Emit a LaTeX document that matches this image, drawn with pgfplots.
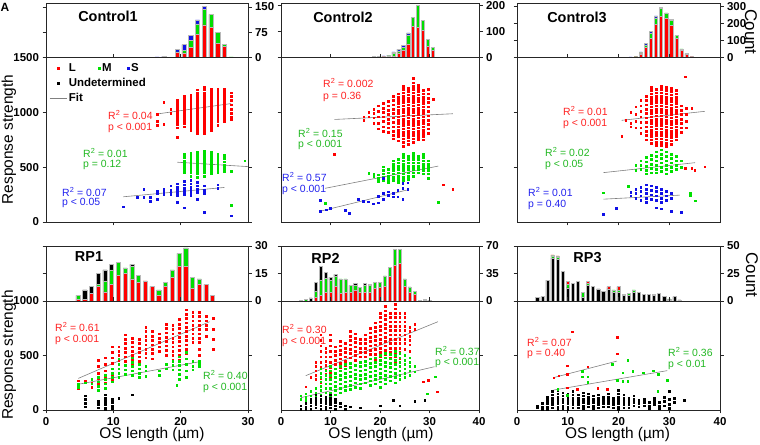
\documentclass[border=0pt]{standalone}
\usepackage{fontspec}
\setmainfont{Liberation Sans}
\usepackage{pgfplots}
\usepackage{pgfplotstable}
\pgfplotsset{compat=1.18}

\definecolor{cR}{HTML}{FF0000}
\definecolor{cG}{HTML}{00E000}
\definecolor{cB}{HTML}{1010E6}
\definecolor{tR}{HTML}{FF2222}
\definecolor{tG}{HTML}{22B822}
\definecolor{tB}{HTML}{2222EE}
\definecolor{barG}{HTML}{00DD00}

\pgfplotsset{
  base/.style={scale only axis, tick align=outside, major tick length=3.5bp,
    axis line style={black!85, line width=0.8bp},
    every tick/.style={black!85, line width=0.8bp},
    tick label style={font=\fontsize{11.5}{13}\selectfont\bfseries},
    /pgf/number format/assume math mode=true,
    /pgf/number format/1000 sep={}},
  hist/.style={base, ybar stacked, bar width=0.62, ymin=0, xtick=\empty,
    ytick pos=both, yticklabel pos=right, height=54.5bp},
  scat/.style={base, ymin=0, xtick pos=both, ytick pos=both},
  pts/.style={only marks, mark=square*, mark size=0.85bp},
  fit/.style={gray, line width=0.6bp},
  hb/.style={draw=gray!55, line width=0.5bp},
}

% histogram tables: x, L (red), M (green), S (blue) / undetermined (black)
\pgfplotstableread{
x r g b
16.5 0 0 2
17.5 0 0 4
18.5 0 0 1
19.5 15 2 8
20.5 14 7 17
21.5 31 19 15
22.5 68 32 12
23.5 97 47 7
24.5 89 39 0
25.5 43 31 0
26.5 33 7 0
27.5 0 2 0
}\histA
\pgfplotstableread{
x r g b
16.7 0 1 0
17.7 1 0 0
18.7 1 2 0
19.7 1 2 1
20.7 2 3 1
21.7 3 3 3
22.7 5 10 7
23.7 18 8 5
24.7 28 10 8
25.7 53 35 7
26.7 120 36 0
27.7 118 83 0
28.7 105 38 0
29.7 43 26 0
30.7 27 13 0
}\histB
\pgfplotstableread{
x r g b
22.4 2 0 1
23.4 3 1 1
24.4 22 5 6
25.4 60 15 10
26.4 112 33 10
27.4 194 40 12
28.4 243 45 10
29.4 229 34 0
30.4 188 30 6
31.4 112 17 0
32.4 41 10 0
33.4 20 4 0
34.4 4 1 0
35.4 1 1 0
}\histC
\pgfplotstableread{
x r g k
4.75 1 2 0
5.75 1 0 5
6.75 4 0 4
7.75 8 1 6
8.75 5 6 6
9.75 9 8 3
10.75 14 7 0
11.75 15 3 0
12.75 12 7 1
13.75 10 4 0
14.75 11 0 0
15.75 8 0 0
16.75 3 3 0
17.75 8 2 0
18.75 13 4 0
19.75 19 7 0
20.75 19 10 0
21.75 7 6 0
22.75 9 3 0
23.75 9 0 0
24.75 3 0 0
}\histD
\pgfplotstableread{
x r g k
4 0 0 1
5 0 2 0
6 0 0 4
7 5 8 11
8 7 20 17
9 11 18 7
10 11 16 3
11 19 12 3
12 10 18 0
13 11 17 0
14 11 9 0
15 14 6 2
16 11 6 0
17 11 9 2
18 11 9 1
19 16 8 0
20 17 7 0
21 19 13 0
22 31 12 0
23 45 21 0
24 48 18 0
25 19 9 0
26 11 7 0
27 8 4 0
28 0 0 1
29 0 1 1
30 0 0 1
}\histE
\pgfplotstableread{
x k g r
4 3 0 0
5 4 0 0
6 19 0 0
7 39 2 1
8 38 2 1
9 27 0 0
10 12 3 3
11 16 0 0
12 18 0 0
13 3 5 0
14 14 2 2
15 13 0 0
16 11 0 0
17 9 0 0
18 11 0 2
19 8 2 0
20 8 2 3
21 5 1 0
22 5 2 0
23 8 2 0
24 8 0 0
25 6 0 0
26 6 0 0
27 5 1 0
28 7 0 0
29 4 0 0
30 1 1 0
31 4 0 0
32 1 0 0
}\histF

\begin{document}
\begin{tikzpicture}[x=1bp,y=1bp]
\path[use as bounding box] (0,0) rectangle (760,445);

% ---------------- Control1 ----------------
\begin{axis}[hist, at={(46bp,387.5bp)}, anchor=south west, width=202bp,
  xmin=0, xmax=30, ymax=162, ytick={0,75,150}]
\addplot[fill=cR, hb] table[x=x,y=r]{\histA};
\addplot[fill=barG, hb] table[x=x,y=g]{\histA};
\addplot[fill=cB, hb] table[x=x,y=b]{\histA};
\end{axis}
\begin{axis}[scat, at={(46bp,223bp)}, anchor=south west, width=202bp, height=164.5bp,
  xmin=0, xmax=30, ymax=1500, xtick={10,20}, xticklabels={}, ytick={0,500,1000,1500},
  legend style={at={(0.01,0.985)}, anchor=north west, draw=none, fill=none,
    font=\fontsize{11.5}{12}\selectfont\bfseries, inner sep=1bp, row sep=1.5bp,
    /tikz/every even column/.append style={column sep=6bp}},
  legend columns=3, legend cell align=left]
\addlegendimage{pts, cR}\addlegendentry{L}
\addlegendimage{pts, cG}\addlegendentry{M}
\addlegendimage{pts, cB}\addlegendentry{S}
\addlegendimage{pts, black}\addlegendentry{\rlap{Undetermined}}
\addlegendimage{empty legend}\addlegendentry{}
\addlegendimage{empty legend}\addlegendentry{}
\addlegendimage{fit}\addlegendentry{Fit}
\addplot[pts, cR, forget plot] coordinates {
(16.5,985)(16.5,920)(16.5,880)(17.5,1095)(17.5,890)(18.5,1030)(18.5,990)
(19.5,1115)(19.5,1090)(19.5,1065)(19.5,1040)(19.5,1015)(19.5,990)(19.5,965)(19.5,940)(19.5,915)(19.5,890)(19.5,860)(19.5,775)
(20.5,1145)(20.5,1120)(20.5,1095)(20.5,1070)(20.5,1045)(20.5,1020)(20.5,995)(20.5,970)(20.5,945)(20.5,920)(20.5,895)(20.5,870)
(21.5,1160)(21.5,1135)(21.5,1110)(21.5,1085)(21.5,1060)(21.5,1035)(21.5,1010)(21.5,985)(21.5,960)(21.5,935)(21.5,910)(21.5,885)(21.5,860)(21.5,840)
(22.5,1205)(22.5,1180)(22.5,1155)(22.5,1130)(22.5,1105)(22.5,1080)(22.5,1055)(22.5,1030)(22.5,1005)(22.5,980)(22.5,955)(22.5,930)(22.5,905)(22.5,880)(22.5,855)(22.5,830)(22.5,810)
(23.5,1230)(23.5,1205)(23.5,1180)(23.5,1155)(23.5,1130)(23.5,1105)(23.5,1080)(23.5,1055)(23.5,1030)(23.5,1005)(23.5,980)(23.5,955)(23.5,930)(23.5,905)(23.5,880)(23.5,855)(23.5,830)(23.5,810)
(24.5,1215)(24.5,1190)(24.5,1165)(24.5,1140)(24.5,1115)(24.5,1090)(24.5,1065)(24.5,1040)(24.5,1015)(24.5,990)(24.5,965)(24.5,940)(24.5,915)(24.5,890)(24.5,865)(24.5,835)
(25.5,1215)(25.5,1190)(25.5,1165)(25.5,1140)(25.5,1115)(25.5,1090)(25.5,1065)(25.5,1040)(25.5,1015)(25.5,990)(25.5,965)(25.5,940)(25.5,915)(25.5,880)
(26.5,1210)(26.5,1185)(26.5,1160)(26.5,1135)(26.5,1110)(26.5,1085)(26.5,1060)(26.5,1035)(26.5,1010)(26.5,985)(26.5,960)(26.5,935)(26.5,915)
(27.5,1180)(27.5,1150)(27.5,1110)(27.5,1070)(27.5,1030)(27.5,990)(27.5,960)(27.5,940)
};
\addplot[pts, cG, forget plot] coordinates {
(20.5,620)(20.5,590)(20.5,560)(20.5,540)(20.5,520)(20.5,500)(20.5,470)(20.5,450)
(21.5,630)(21.5,600)(21.5,575)(21.5,550)(21.5,525)(21.5,500)(21.5,475)(21.5,450)(21.5,420)
(22.5,640)(22.5,615)(22.5,590)(22.5,565)(22.5,540)(22.5,515)(22.5,490)(22.5,465)(22.5,440)(22.5,410)
(23.5,650)(23.5,625)(23.5,600)(23.5,575)(23.5,550)(23.5,525)(23.5,500)(23.5,475)(23.5,450)(23.5,420)
(24.5,640)(24.5,615)(24.5,590)(24.5,565)(24.5,540)(24.5,515)(24.5,490)(24.5,465)(24.5,440)
(25.5,620)(25.5,595)(25.5,570)(25.5,545)(25.5,520)(25.5,495)(25.5,470)(25.5,450)
(26.5,610)(26.5,580)(26.5,550)(26.5,520)(26.5,490)(26.5,460)
(27.5,465)(27.5,152)(29.5,560)
};
\addplot[pts, cB, forget plot] coordinates {
(11.5,140)(13.5,225)(14.5,300)(14.5,225)(15.5,225)(15.5,190)
(16.5,280)(16.5,260)(16.5,210)(17.5,300)(17.5,270)(17.5,250)
(18.5,330)(18.5,290)(18.5,270)(18.5,250)
(19.5,350)(19.5,320)(19.5,300)(19.5,280)(19.5,260)(19.5,240)(19.5,180)
(20.5,370)(20.5,340)(20.5,310)(20.5,290)(20.5,270)(20.5,250)(20.5,130)
(21.5,380)(21.5,350)(21.5,320)(21.5,300)(21.5,280)(21.5,260)(21.5,240)
(22.5,360)(22.5,330)(22.5,300)(22.5,270)(22.5,210)
(23.5,330)(23.5,290)(23.5,260)(23.5,90)(25.5,340)(25.5,310)(27.5,58)
};
\addplot[fit, forget plot] coordinates {(16.5,985)(27.5,1080)};
\addplot[fit, forget plot] coordinates {(19.5,545)(30,505)};
\addplot[fit, forget plot] coordinates {(11.5,230)(26.5,315)};
\end{axis}

% ---------------- Control2 ----------------
\begin{axis}[hist, at={(281bp,387.5bp)}, anchor=south west, width=198bp,
  xmin=0, xmax=40, ymax=211, ytick={0,100,200}]
\addplot[fill=cR, hb] table[x=x,y=r]{\histB};
\addplot[fill=barG, hb] table[x=x,y=g]{\histB};
\addplot[fill=cB, hb] table[x=x,y=b]{\histB};
\end{axis}
\begin{axis}[scat, at={(281bp,223bp)}, anchor=south west, width=198bp, height=164.5bp,
  xmin=0, xmax=40, ymax=1500, xtick={10,20,30}, xticklabels={}, ytick={500,1000}, yticklabels={}]
\addplot[pts, cR] coordinates {
(16.7,925)(16.7,960)(17.7,960)(17.7,1000)
(18.7,1030)(18.7,990)(18.7,950)(18.7,900)
(19.7,1060)(19.7,1010)(19.7,960)(19.7,900)(19.7,850)
(20.7,1080)(20.7,1040)(20.7,1000)(20.7,960)(20.7,920)(20.7,870)(20.7,830)
(21.7,1100)(21.7,1060)(21.7,1020)(21.7,980)(21.7,940)(21.7,900)(21.7,860)(21.7,820)
(22.7,1150)(22.7,1110)(22.7,1070)(22.7,1030)(22.7,990)(22.7,950)(22.7,910)(22.7,870)(22.7,830)(22.7,790)(22.7,760)
(23.7,1170)(23.7,1140)(23.7,1110)(23.7,1080)(23.7,1050)(23.7,1020)(23.7,990)(23.7,960)(23.7,930)(23.7,900)(23.7,870)(23.7,840)(23.7,810)(23.7,780)(23.7,740)
(24.7,1240)(24.7,1210)(24.7,1180)(24.7,1150)(24.7,1120)(24.7,1090)(24.7,1060)(24.7,1030)(24.7,1000)(24.7,970)(24.7,940)(24.7,910)(24.7,880)(24.7,850)(24.7,820)(24.7,790)(24.7,760)(24.7,730)(24.7,690)
(25.7,1220)(25.7,1190)(25.7,1160)(25.7,1130)(25.7,1100)(25.7,1070)(25.7,1040)(25.7,1010)(25.7,980)(25.7,950)(25.7,920)(25.7,890)(25.7,860)(25.7,830)(25.7,800)(25.7,770)(25.7,740)(25.7,710)
(26.7,1310)(26.7,1270)(26.7,1240)(26.7,1210)(26.7,1180)(26.7,1150)(26.7,1120)(26.7,1090)(26.7,1060)(26.7,1030)(26.7,1000)(26.7,970)(26.7,940)(26.7,910)(26.7,880)(26.7,850)(26.7,820)(26.7,790)(26.7,760)(26.7,730)
(27.7,1250)(27.7,1220)(27.7,1190)(27.7,1160)(27.7,1130)(27.7,1100)(27.7,1070)(27.7,1040)(27.7,1010)(27.7,980)(27.7,950)(27.7,920)(27.7,890)(27.7,860)(27.7,830)(27.7,800)(27.7,770)(27.7,750)
(28.7,1200)(28.7,1170)(28.7,1140)(28.7,1110)(28.7,1080)(28.7,1050)(28.7,1020)(28.7,990)(28.7,960)(28.7,930)(28.7,900)(28.7,870)(28.7,840)(28.7,810)(28.7,780)(28.7,750)
(29.7,1210)(29.7,1170)(29.7,1130)(29.7,1090)(29.7,1050)(29.7,1010)(29.7,970)(29.7,930)(29.7,890)(29.7,850)(29.7,810)
(30.7,1120)(10.8,615)(32.7,340)(34.7,300)
};
\addplot[pts, cG] coordinates {
(17.7,445)(18.7,440)(18.7,420)(19.7,430)(19.7,400)(19.7,370)
(20.7,505)(20.7,470)(20.7,440)(20.7,410)(20.7,380)
(21.7,480)(21.7,450)(21.7,420)(21.7,390)(21.7,365)
(22.7,560)(22.7,530)(22.7,500)(22.7,470)(22.7,440)(22.7,410)(22.7,380)
(23.7,570)(23.7,540)(23.7,510)(23.7,480)(23.7,450)(23.7,420)(23.7,390)(23.7,365)
(24.7,620)(24.7,590)(24.7,560)(24.7,530)(24.7,500)(24.7,470)(24.7,440)(24.7,410)(24.7,380)
(25.7,600)(25.7,570)(25.7,540)(25.7,510)(25.7,480)(25.7,450)(25.7,420)(25.7,390)
(26.7,630)(26.7,600)(26.7,570)(26.7,540)(26.7,510)(26.7,480)(26.7,450)(26.7,420)
(27.7,600)(27.7,570)(27.7,540)(27.7,510)(27.7,480)(27.7,450)
(28.7,620)(28.7,590)(28.7,560)(28.7,530)(28.7,500)(28.7,470)(28.7,440)
(29.7,560)(29.7,530)(29.7,500)(29.7,470)(29.7,440)(29.7,400)
(8.9,170)(31.8,180)
};
\addplot[pts, cB] coordinates {
(7.9,199)(7.9,98)(9.1,113)(9.9,123)(12.9,107)(13.8,83)(15.6,205)(16.6,190)(17.6,184)(18.6,168)
(19.6,236)(19.6,175)(20.6,260)(20.6,205)(20.6,400)(21.6,245)(21.6,275)(22.6,260)(22.6,230)
(23.6,290)(23.6,230)(24.6,352)(24.6,306)(24.6,205)(25.6,358)(25.6,297)
};
\addplot[fit] coordinates {(10.8,935)(34.7,987)};
\addplot[fit] coordinates {(8.9,307)(31.8,510)};
\addplot[fit] coordinates {(7.9,98)(25.4,291)};
\end{axis}

% ---------------- Control3 ----------------
\begin{axis}[hist, at={(517bp,387.5bp)}, anchor=south west, width=203bp,
  xmin=0, xmax=40, ymax=322, ytick={0,100,200,300}]
\addplot[fill=cR, hb] table[x=x,y=r]{\histC};
\addplot[fill=barG, hb] table[x=x,y=g]{\histC};
\addplot[fill=cB, hb] table[x=x,y=b]{\histC};
\end{axis}
\begin{axis}[scat, at={(517bp,223bp)}, anchor=south west, width=203bp, height=164.5bp,
  xmin=0, xmax=40, ymax=1500, xtick={10,20,30}, xticklabels={}, ytick={500,1000}, yticklabels={}]
\addplot[pts, cR] coordinates {
(20.6,780)(21.4,930)(22.4,1000)(22.4,900)(22.4,870)(23.4,1050)(23.4,980)(23.4,920)(23.4,860)
(24.4,1110)(24.4,1060)(24.4,1010)(24.4,960)(24.4,910)(24.4,860)(24.4,810)
(25.4,1150)(25.4,1110)(25.4,1070)(25.4,1030)(25.4,990)(25.4,950)(25.4,910)(25.4,870)(25.4,830)(25.4,790)(25.4,750)
(26.4,1230)(26.4,1200)(26.4,1170)(26.4,1140)(26.4,1110)(26.4,1080)(26.4,1050)(26.4,1020)(26.4,990)(26.4,960)(26.4,930)(26.4,900)(26.4,870)(26.4,840)(26.4,810)(26.4,780)(26.4,750)(26.4,720)
(27.4,1210)(27.4,1180)(27.4,1150)(27.4,1120)(27.4,1090)(27.4,1060)(27.4,1030)(27.4,1000)(27.4,970)(27.4,940)(27.4,910)(27.4,880)(27.4,850)(27.4,820)(27.4,790)(27.4,760)(27.4,730)(27.4,700)
(28.4,1240)(28.4,1210)(28.4,1180)(28.4,1150)(28.4,1120)(28.4,1090)(28.4,1060)(28.4,1030)(28.4,1000)(28.4,970)(28.4,940)(28.4,910)(28.4,880)(28.4,850)(28.4,820)(28.4,790)(28.4,760)(28.4,730)(28.4,700)
(29.4,1230)(29.4,1200)(29.4,1170)(29.4,1140)(29.4,1110)(29.4,1080)(29.4,1050)(29.4,1020)(29.4,990)(29.4,960)(29.4,930)(29.4,900)(29.4,870)(29.4,840)(29.4,810)(29.4,780)(29.4,750)(29.4,720)(29.4,690)
(30.4,1220)(30.4,1190)(30.4,1160)(30.4,1130)(30.4,1100)(30.4,1070)(30.4,1040)(30.4,1010)(30.4,980)(30.4,950)(30.4,920)(30.4,890)(30.4,860)(30.4,830)(30.4,800)(30.4,770)(30.4,740)(30.4,710)
(31.4,1200)(31.4,1170)(31.4,1140)(31.4,1110)(31.4,1080)(31.4,1050)(31.4,1020)(31.4,990)(31.4,960)(31.4,930)(31.4,900)(31.4,870)(31.4,840)(31.4,810)(31.4,780)(31.4,750)
(32.4,1060)(32.4,1020)(32.4,980)(32.4,940)(32.4,900)(32.4,860)(32.4,820)
(33.4,1040)(33.4,980)(33.4,920)(33.4,860)(33.1,1325)(34.4,1040)
(37.0,505)(33.1,490)(34.4,490)(35.0,475)
};
\addplot[pts, cG] coordinates {
(23.4,520)(23.4,470)(24.4,560)(24.4,520)(24.4,480)
(25.4,590)(25.4,550)(25.4,510)(25.4,470)(25.4,440)
(26.4,610)(26.4,570)(26.4,530)(26.4,490)(26.4,450)
(27.4,640)(27.4,600)(27.4,560)(27.4,520)(27.4,480)(27.4,450)
(28.4,660)(28.4,620)(28.4,580)(28.4,540)(28.4,500)(28.4,460)
(29.4,640)(29.4,600)(29.4,560)(29.4,520)(29.4,480)(29.4,440)
(30.4,620)(30.4,580)(30.4,540)(30.4,500)(30.4,460)
(31.4,600)(31.4,560)(31.4,520)(31.4,480)(32.4,560)(32.4,500)
(17.0,266)(21.9,327)(34.1,260)(34.1,240)(35.1,195)
};
\addplot[pts, cB] coordinates {
(22.4,270)(22.4,240)(23.4,300)(23.4,260)(23.4,220)
(24.4,320)(24.4,280)(24.4,240)(24.4,200)
(25.4,340)(25.4,300)(25.4,260)(25.4,220)(25.4,180)
(26.4,330)(26.4,290)(26.4,250)(26.4,210)
(27.4,320)(27.4,280)(27.4,240)(27.4,200)(27.4,130)
(28.4,300)(28.4,260)(28.4,220)(28.4,180)(28.4,120)
(29.4,280)(29.4,240)(29.4,200)(30.4,260)(30.4,220)(30.4,100)
(32.3,90)(17.0,70)(19.6,128)
};
\addplot[fit] coordinates {(20.6,927)(37.0,1009)};
\addplot[fit] coordinates {(17.0,450)(35.1,541)};
\addplot[fit] coordinates {(17.0,208)(32.1,245)};
\end{axis}

% ---------------- RP1 ----------------
\begin{axis}[hist, at={(46bp,144bp)}, anchor=south west, width=202bp, height=55bp,
  xmin=0, xmax=30, ymax=30, ytick={0,15,30}]
\addplot[fill=cR, hb] table[x=x,y=r]{\histD};
\addplot[fill=barG, hb] table[x=x,y=g]{\histD};
\addplot[fill=black, hb] table[x=x,y=k]{\histD};
\end{axis}
\begin{axis}[scat, at={(46bp,35bp)}, anchor=south west, width=202bp, height=109bp,
  xmin=0, xmax=30, ymax=1000, xtick={0,10,20,30}, ytick={0,500,1000}]
\addplot[pts, cR] coordinates {
(4.8,270)(4.8,200)(5.8,270)(6.8,250)(6.8,210)
(7.8,460)(7.8,400)(7.8,340)(7.8,290)(7.8,240)(7.8,180)
(8.8,480)(8.8,420)(8.8,360)(8.8,300)(8.8,250)(8.8,200)
(9.8,580)(9.8,530)(9.8,480)(9.8,430)(9.8,380)(9.8,330)(9.8,280)
(10.8,580)(10.8,540)(10.8,500)(10.8,460)(10.8,420)(10.8,380)(10.8,340)
(11.8,690)(11.8,650)(11.8,610)(11.8,570)(11.8,530)(11.8,490)(11.8,450)(11.8,410)(11.8,370)(11.8,330)
(12.8,660)(12.8,620)(12.8,580)(12.8,540)(12.8,500)(12.8,460)(12.8,420)
(13.8,650)(13.8,610)(13.8,570)(13.8,530)(13.8,490)(13.8,450)
(14.8,760)(14.8,720)(14.8,680)(14.8,640)(14.8,600)(14.8,560)(14.8,520)(14.8,480)
(15.8,720)(15.8,680)(15.8,640)(15.8,600)(15.8,560)(15.8,520)(15.8,470)
(16.8,700)(16.8,660)(16.8,620)(16.8,580)(16.8,540)
(17.8,790)(17.8,750)(17.8,710)(17.8,670)(17.8,630)(17.8,590)(17.8,550)(17.8,500)
(18.8,780)(18.8,740)(18.8,700)(18.8,660)(18.8,620)(18.8,580)(18.8,540)(18.8,500)(18.8,460)
(19.8,830)(19.8,790)(19.8,750)(19.8,710)(19.8,670)(19.8,630)(19.8,590)(19.8,550)(19.8,500)(19.8,460)
(20.8,920)(20.8,880)(20.8,840)(20.8,800)(20.8,760)(20.8,720)(20.8,680)(20.8,640)(20.8,600)(20.8,560)(20.8,520)(20.8,470)(20.8,420)(20.8,360)
(21.8,900)(21.8,860)(21.8,820)(21.8,780)(21.8,740)(21.8,700)(21.8,660)(21.8,620)
(22.8,900)(22.8,860)(22.8,820)(22.8,780)(22.8,740)(22.8,700)(22.8,660)(22.8,620)(22.8,560)(22.8,500)
(23.8,860)(23.8,820)(23.8,780)(23.8,740)(23.8,680)
(24.8,840)(24.8,740)(24.8,650)(24.8,560)
};
\addplot[pts, cG] coordinates {
(4.8,235)(4.8,210)(5.8,250)(6.8,280)(6.8,240)
(7.8,300)(7.8,260)(7.8,220)(7.8,180)(8.8,320)(8.8,280)(8.8,240)(8.8,200)
(9.8,380)(9.8,340)(9.8,300)(9.8,260)(10.8,470)(10.8,420)(10.8,380)(10.8,340)(10.8,300)
(11.8,410)(11.8,370)(11.8,330)(12.8,480)(12.8,440)(12.8,400)(12.8,360)(12.8,320)
(13.8,420)(13.8,380)(13.8,340)(13.8,300)(14.8,400)(14.8,360)(14.8,310)
(16.8,360)(16.8,320)(17.8,420)(17.8,380)(18.8,450)(18.8,410)(18.8,370)
(19.8,490)(19.8,450)(19.8,410)(19.8,370)(19.8,330)(19.8,280)
(20.8,530)(20.8,470)(20.8,420)(20.8,360)(20.8,300)
(21.8,450)(21.8,400)(21.8,370)(22.8,450)(22.8,420)(22.8,400)(19.4,229)
};
\addplot[pts, black] coordinates {
(5.8,130)(5.8,100)(5.8,60)(5.8,30)(7.8,80)(7.8,50)(7.8,20)
(8.8,140)(8.8,110)(8.8,80)(8.8,50)(8.8,20)(8.8,5)
(9.8,100)(9.8,70)(9.8,40)(9.8,15)(10.8,110)(12.8,140)
};
\addplot[fit] coordinates {(4.8,290)(24.3,810)};
\addplot[fit] coordinates {(4.8,236)(22.8,443)};
\end{axis}

% ---------------- RP2 ----------------
\begin{axis}[hist, at={(281bp,144bp)}, anchor=south west, width=198bp, height=55bp,
  xmin=0, xmax=40, ymax=70, ytick={0,35,70}]
\addplot[fill=cR, hb] table[x=x,y=r]{\histE};
\addplot[fill=barG, hb] table[x=x,y=g]{\histE};
\addplot[fill=black, hb] table[x=x,y=k]{\histE};
\end{axis}
\begin{axis}[scat, at={(281bp,35bp)}, anchor=south west, width=198bp, height=109bp,
  xmin=0, xmax=40, ymax=1000, xtick={0,10,20,30,40}, ytick={500,1000}, yticklabels={}]
\addplot[pts, cR] coordinates {
(5,215)(6,300)(7,440)(7,400)(7,360)(7,320)(7,280)
(8,690)(8,640)(8,590)(8,540)(8,490)(8,440)(8,390)(8,340)(8,290)(8,250)
(9,570)(9,530)(9,490)(9,450)(9,410)(9,370)(9,330)
(10,690)(10,640)(10,590)(10,540)(10,490)(10,440)(10,390)(10,340)(10,290)(10,240)
(11,580)(11,540)(11,500)(11,460)(11,420)(11,380)(11,340)
(12,630)(12,590)(12,550)(12,510)(12,470)(12,430)(12,390)
(13,610)(13,570)(13,530)(13,490)(13,450)(13,410)
(14,720)(14,680)(14,640)(14,600)(14,560)(14,520)(14,480)(14,430)
(15,700)(15,660)(15,620)(15,580)(15,540)(15,500)(15,460)
(16,650)(16,610)(16,570)(16,530)(16,490)(16,440)
(17,690)(17,650)(17,610)(17,570)(17,530)(17,490)(17,450)
(18,750)(18,710)(18,670)(18,630)(18,590)(18,550)(18,510)(18,470)
(19,800)(19,760)(19,720)(19,680)(19,640)(19,600)(19,560)(19,510)(19,460)
(20,890)(20,850)(20,810)(20,770)(20,730)(20,690)(20,650)(20,610)(20,570)(20,530)(20,490)
(21,950)(21,910)(21,870)(21,830)(21,790)(21,750)(21,710)(21,670)(21,630)(21,590)(21,550)(21,510)
(22,890)(22,850)(22,810)(22,770)(22,730)(22,690)(22,650)(22,610)(22,570)(22,530)(22,480)
(23,970)(23,930)(23,890)(23,850)(23,810)(23,770)(23,730)(23,690)(23,650)(23,610)(23,570)(23,530)(23,490)(23,450)(23,380)
(24,890)(24,850)(24,810)(24,770)(24,730)(24,690)(24,650)(24,610)(24,570)(24,530)(24,470)
(25,890)(25,850)(25,810)(25,770)(25,730)(25,690)(25,650)(25,610)(25,560)(25,500)
(26,760)(26,720)(26,680)(26,640)(26,600)(26,540)
(27,790)(27,740)(28.7,260)(29.7,275)(31.6,168)
};
\addplot[pts, cG] coordinates {
(4,130)(4,100)(5,150)(5,120)(5,90)(6,170)(6,130)(6,100)(7,200)(7,160)(7,120)(7,80)
(8,380)(8,340)(8,300)(8,260)(8,220)(8,180)(8,140)(8,100)
(9,360)(9,320)(9,280)(9,240)(9,200)(9,160)(9,120)
(10,400)(10,360)(10,320)(10,280)(10,240)(10,200)(10,160)(10,120)
(11,380)(11,340)(11,300)(11,260)(11,220)(11,180)(11,140)
(12,400)(12,360)(12,320)(12,280)(12,240)(12,200)(12,160)
(13,420)(13,380)(13,340)(13,300)(13,260)(13,220)(13,180)
(14,430)(14,390)(14,350)(14,310)(14,270)(14,230)(14,190)
(15,410)(15,370)(15,330)(15,290)(15,250)(15,210)
(16,440)(16,400)(16,360)(16,320)(16,280)(16,240)(16,200)
(17,450)(17,410)(17,370)(17,330)(17,290)(17,250)
(18,470)(18,430)(18,390)(18,350)(18,310)(18,270)(18,230)
(19,480)(19,440)(19,400)(19,360)(19,320)(19,280)(19,240)
(20,500)(20,460)(20,420)(20,380)(20,340)(20,300)(20,260)(20,210)
(21,520)(21,480)(21,440)(21,400)(21,360)(21,320)(21,280)(21,240)
(22,510)(22,470)(22,430)(22,390)(22,350)(22,310)(22,270)
(23,540)(23,500)(23,460)(23,420)(23,380)(23,340)(23,300)(23,250)
(24,520)(24,480)(24,440)(24,400)(24,360)(24,320)(24,280)
(25,500)(25,460)(25,420)(25,380)(25,340)(25,300)
(26,480)(26,440)(26,400)(26,360)(26,320)(27,400)(27,350)
(31.1,306)(29.5,150)
};
\addplot[pts, black] coordinates {
(4,40)(4,10)(5,60)(5,30)(5,5)(6,100)(6,70)(6,40)(6,10)
(7,140)(7,110)(7,80)(7,50)(7,20)(8,130)(8,100)(8,70)(8,40)(8,10)
(9,120)(9,90)(9,60)(9,30)(9,5)(10,140)(10,110)(10,80)(10,50)(10,20)
(11,100)(11,70)(11,40)(11,10)(12,60)(12,30)(13,40)(13,10)(14,30)(16,20)
(20,40)(22.7,92)(24,40)(27,80)(29,90)
};
\addplot[fit] coordinates {(5.0,315)(31.7,810)};
\addplot[fit] coordinates {(4.0,113)(31.0,397)};
\end{axis}

% ---------------- RP3 ----------------
\begin{axis}[hist, at={(517bp,144bp)}, anchor=south west, width=203bp, height=55bp,
  xmin=0, xmax=40, ymax=50, ytick={0,25,50}]
\addplot[fill=black, hb] table[x=x,y=k]{\histF};
\addplot[fill=barG, hb] table[x=x,y=g]{\histF};
\addplot[fill=cR, hb] table[x=x,y=r]{\histF};
\end{axis}
\begin{axis}[scat, at={(517bp,35bp)}, anchor=south west, width=203bp, height=109bp,
  xmin=0, xmax=40, ymax=1000, xtick={0,10,20,30,40}, ytick={500,1000}, yticklabels={}]
\addplot[pts, black] coordinates {
(4,40)(4,20)(5,60)(5,30)(5,10)(6,120)(6,90)(6,60)(6,30)(6,10)
(7,170)(7,140)(7,110)(7,80)(7,50)(7,20)(8,180)(8,150)(8,120)(8,90)(8,60)(8,30)(8,10)
(9,160)(9,130)(9,100)(9,70)(9,40)(9,15)(10,150)(10,120)(10,90)(10,60)(10,30)(10,10)
(11,170)(11,140)(11,110)(11,80)(11,50)(11,20)(12,140)(12,110)(12,80)(12,50)(12,20)
(13,160)(13,130)(13,100)(13,70)(13,40)(13,15)(14,150)(14,120)(14,90)(14,60)(14,30)
(15,130)(15,100)(15,70)(15,40)(15,15)(16,140)(16,110)(16,80)(16,50)(16,20)
(17,120)(17,90)(17,60)(17,30)(18,150)(18,120)(18,90)(18,60)(18,30)
(19,110)(19,80)(19,50)(19,20)(20,180)(20,150)(20,120)(20,90)(20,60)(20,30)(20,10)
(21,140)(21,110)(21,80)(21,50)(21,20)(22,110)(22,80)(22,50)(22,20)
(23,130)(23,100)(23,70)(23,40)(24,90)(24,60)(24,30)(25,100)(25,70)(25,40)
(26,70)(26,40)(26,15)(27,110)(27,80)(27,50)(28,70)(28,40)(28,15)
(29,120)(29,80)(29,40)(30,170)(30,100)(30,50)(30,15)(31,110)(31,70)(33,90)
};
\addplot[pts, cR] coordinates {
(7.2,297)(8.2,315)(10.9,718)(9.9,406)(9.9,330)(11.9,189)(13.9,397)(15.9,199)(17.8,193)(19.8,667)(19.8,517)(9.9,205)
};
\addplot[pts, cG] coordinates {
(12.9,358)(12.9,306)(13.9,306)(13.9,254)(18.8,419)(21.8,459)(20.8,343)(21.8,266)(20.8,266)
(22.8,358)(24.8,343)(26.8,361)(27.8,327)(29.6,275)(27.7,174)(9.9,138)(8.0,190)(19.7,275)
};
\addplot[fit] coordinates {(7.2,297)(19.7,449)};
\addplot[fit] coordinates {(7.2,183)(29.6,361)};
\end{axis}

% ---------------- labels ----------------
\begin{scope}[every node/.style={inner sep=0pt}]
\node[font=\fontsize{14.5}{16}\selectfont\bfseries] at (108,429) {Control1};
\node[font=\fontsize{14.5}{16}\selectfont\bfseries] at (343,428) {Control2};
\node[font=\fontsize{14.5}{16}\selectfont\bfseries] at (577,428) {Control3};
\node[font=\fontsize{14.5}{16}\selectfont\bfseries] at (89,188) {RP1};
\node[font=\fontsize{14.5}{16}\selectfont\bfseries] at (325.5,187) {RP2};
\node[font=\fontsize{14.5}{16}\selectfont\bfseries] at (587.5,187) {RP3};
\node[font=\fontsize{12}{14}\selectfont\bfseries] at (5,438) {A};
\node[font=\fontsize{15.5}{17}\selectfont, rotate=90] at (9,305.5) {Response strength};
\node[font=\fontsize{15.5}{17}\selectfont, rotate=90] at (9,90) {Response strength};
\node[font=\fontsize{15.5}{17}\selectfont] at (152,10) {OS length (µm)};
\node[font=\fontsize{15.5}{17}\selectfont] at (381,10) {OS length (µm)};
\node[font=\fontsize{15.5}{17}\selectfont] at (617.5,10) {OS length (µm)};
\node[font=\fontsize{17}{19}\selectfont, rotate=-90] at (751,413) {Count};
\node[font=\fontsize{17}{19}\selectfont, rotate=-90] at (752,170) {Count};
\end{scope}
\begin{scope}[every node/.style={inner sep=0pt, anchor=west, font=\fontsize{10.5}{12}\selectfont}]
\node[tR] at (108,330) {R\textsuperscript{2} = 0.04};
\node[tR] at (108,317) {p < 0.001};
\node[tG] at (83,292) {R\textsuperscript{2} = 0.01};
\node[tG] at (83,280) {p = 0.12};
\node[tB] at (62,253) {R\textsuperscript{2} = 0.07};
\node[tB] at (62,242) {p < 0.05};
\node[tR] at (323,362) {R\textsuperscript{2} = 0.002};
\node[tR] at (323,348) {p = 0.36};
\node[tG] at (298,312) {R\textsuperscript{2} = 0.15};
\node[tG] at (298,300) {p < 0.001};
\node[tB] at (282,268) {R\textsuperscript{2} = 0.57};
\node[tB] at (282,255) {p < 0.001};
\node[tR] at (563,334) {R\textsuperscript{2} = 0.01};
\node[tR] at (563,321) {p < 0.001};
\node[tG] at (545,293) {R\textsuperscript{2} = 0.02};
\node[tG] at (545,280) {p < 0.05};
\node[tB] at (528,253) {R\textsuperscript{2} = 0.01};
\node[tB] at (528,240) {p = 0.40};
\node[tR] at (55,118) {R\textsuperscript{2} = 0.61};
\node[tR] at (55,105) {p < 0.001};
\node[tG] at (203,70) {R\textsuperscript{2} = 0.40};
\node[tG] at (203,57) {p < 0.001};
\node[tR] at (282,116) {R\textsuperscript{2} = 0.30};
\node[tR] at (282,103) {p < 0.001};
\node[tG] at (435,94) {R\textsuperscript{2} = 0.37};
\node[tG] at (435,82) {p < 0.001};
\node[tR] at (527,103) {R\textsuperscript{2} = 0.07};
\node[tR] at (527,91) {p = 0.40};
\node[tG] at (668,93) {R\textsuperscript{2} = 0.36};
\node[tG] at (668,80) {p < 0.01};
\end{scope}
\end{tikzpicture}
\end{document}
